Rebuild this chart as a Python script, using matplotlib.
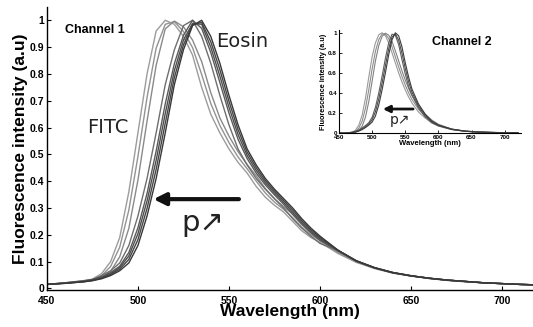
import matplotlib
matplotlib.use("Agg")
import matplotlib.pyplot as plt

# ---- main panel (channel 1) ----
wl = [450, 460, 470, 475, 480, 485, 490, 495, 500, 505, 510, 515, 520, 525, 530,
      535, 540, 545, 550, 555, 560, 565, 570, 575, 580, 585, 590, 595, 600,
      610, 620, 630, 640, 650, 660, 670, 680, 690, 700, 710, 720]

fitc = [.015, .021, .028, .035, .055, .10, .19, .36, .58, .80, .96, 1.0, .985, .94, .87,
        .75, .65, .58, .52, .47, .43, .38, .34, .31, .285, .25, .215, .19, .172,
        .13, .097, .074, .057, .046, .037, .030, .025, .021, .018, .015, .013]
fitc_2 = [.015, .021, .027, .032, .047, .082, .154, .292, .492, .712, .896, .985, .995, .958, .898,
          .798, .69, .608, .544, .49, .446, .40, .356, .322, .295, .264, .229, .20, .179,
          .133, .10, .076, .058, .047, .037, .030, .025, .021, .018, .015, .013]
fitc_4 = [.015, .020, .024, .029, .039, .064, .118, .224, .404, .624, .832, .968, .997, .976, .926,
          .846, .73, .636, .568, .51, .462, .42, .372, .334, .305, .278, .243, .21, .186,
          .136, .103, .078, .06, .048, .038, .031, .026, .021, .018, .015, .013]
eosin_5 = [.015, .021, .029, .033, .048, .066, .095, .16, .27, .41, .58, .76, .89, .98, 1.0,
           .94, .84, .72, .61, .52, .46, .41, .37, .335, .30, .26, .225, .195, .168,
           .14, .10, .076, .058, .047, .038, .031, .026, .021, .018, .015, .013]
eosin_3 = [.015, .020, .027, .033, .043, .059, .083, .134, .226, .354, .512, .688, .838, .944, 1.0,
           .97, .88, .768, .654, .556, .484, .43, .386, .349, .314, .276, .239, .207, .179,
           .141, .102, .077, .059, .047, .038, .031, .026, .021, .018, .015, .013]
eosin_2 = [.015, .020, .026, .032, .041, .055, .078, .121, .204, .326, .478, .652, .812, .926, .988,
           .985, .90, .792, .676, .574, .496, .44, .394, .356, .321, .284, .246, .213, .184,
           .141, .102, .077, .059, .047, .038, .031, .026, .021, .018, .015, .013]
eosin_1 = [.015, .019, .025, .030, .038, .052, .072, .108, .182, .298, .444, .616, .786, .908, .984,
           .992, .92, .816, .698, .592, .508, .45, .402, .363, .328, .292, .253, .219, .19,
           .142, .103, .077, .059, .047, .038, .031, .026, .021, .018, .015, .013]
eosin = [.015, .019, .025, .029, .036, .048, .066, .095, .16, .27, .41, .58, .76, .89, .98,
         1.0, .94, .84, .72, .61, .52, .46, .41, .37, .335, .30, .26, .225, .195,
         .142, .103, .077, .059, .047, .038, .031, .026, .021, .018, .015, .013]

main_curves = [fitc, fitc_2, fitc_4, eosin_5, eosin_3, eosin_2, eosin_1, eosin]
main_colors = ['#9c9c9c', '#939393', '#8a8a8a', '#6e6e6e', '#5a5a5a', '#4e4e4e', '#454545', '#383838']

xticks = [450, 500, 550, 600, 650, 700]
yticks = [0, 0.1, 0.2, 0.3, 0.4, 0.5, 0.6, 0.7, 0.8, 0.9, 1]
ytick_labels = ['0', '0.1', '0.2', '0.3', '0.4', '0.5', '0.6', '0.7', '0.8', '0.9', '1']

# ---- inset (channel 2) ----
wl_in = [450, 460, 470, 475, 480, 485, 490, 495, 500, 505, 510, 515, 520, 525, 530, 535,
         540, 545, 550, 555, 560, 570, 580, 590, 600, 620, 640, 660, 680, 700, 720]
in_f = [0, 0, .01, .03, .08, .18, .35, .56, .76, .90, .98, 1.0, .97, .90, .80, .70,
        .60, .51, .43, .36, .30, .21, .15, .10, .07, .035, .018, .01, .006, .004, .003]
in_f3 = [0, 0, .006, .018, .05, .12, .248, .434, .64, .816, .932, .988, .988, .942, .86, .76,
         .66, .564, .478, .402, .336, .237, .168, .115, .079, .037, .019, .011, .006, .004, .003]
in_f6 = [0, 0, .003, .009, .026, .07, .16, .316, .518, .72, .872, .964, .996, .976, .914, .82,
         .72, .62, .528, .446, .374, .264, .186, .13, .088, .04, .02, .011, .007, .004, .003]
in_e4 = [0, 0, .009, .018, .032, .051, .075, .104, .158, .258, .40, .566, .744, .90, .986, .976,
         .882, .732, .588, .464, .38, .25, .162, .104, .072, .036, .018, .01, .006, .004, .003]
in_e2 = [0, 0, .007, .014, .026, .043, .065, .092, .134, .214, .34, .498, .672, .84, .958, .988,
         .926, .796, .644, .512, .41, .27, .176, .112, .076, .038, .019, .01, .006, .004, .003]
in_e = [0, 0, .005, .01, .02, .035, .055, .08, .11, .17, .28, .43, .60, .78, .93, 1.0,
        .97, .86, .70, .56, .44, .29, .19, .12, .08, .04, .02, .011, .007, .004, .003]

inset_curves = [in_f, in_f3, in_f6, in_e4, in_e2, in_e]
inset_colors = ['#9a9a9a', '#8e8e8e', '#828282', '#5e5e5e', '#4c4c4c', '#3c3c3c']
inset_yticks = [0, 0.2, 0.4, 0.6, 0.8, 1]
inset_ytick_labels = ['0', '0.2', '0.4', '0.6', '0.8', '1']

bold = 'Liberation Sans'

fig = plt.figure(figsize=(5.33, 3.27), dpi=100)
ax = fig.add_axes([0.088, 0.113, 0.912, 0.866])
for y, c in zip(main_curves, main_colors):
    ax.plot(wl, y, color=c, lw=1.0)
ax.set_xlim(450, 717)
ax.set_ylim(-0.006, 1.05)
ax.set_xticks(xticks)
ax.set_yticks(yticks)
ax.set_yticklabels(ytick_labels)
for s in ['top', 'right']:
    ax.spines[s].set_visible(False)
for s in ['left', 'bottom']:
    ax.spines[s].set_linewidth(1.0)
ax.tick_params(direction='in', length=3, width=0.8, labelsize=7.5, pad=2)
ax.tick_params(axis='x', pad=4)
for lab in ax.get_xticklabels() + ax.get_yticklabels():
    lab.set_fontfamily(bold)
    lab.set_fontweight('bold')
ax.set_xlabel('Wavelength (nm)', fontfamily=bold, fontweight='bold', fontsize=12.5, labelpad=-1)
ax.set_ylabel('Fluorescence intensity (a.u)', fontfamily=bold, fontweight='bold', fontsize=12.5, labelpad=1)

ax.text(460, 0.965, 'Channel 1', fontfamily=bold, fontweight='bold', fontsize=9, va='center')
ax.text(543, 0.92, 'Eosin', fontsize=14, va='center', color='#222222')
ax.text(472, 0.6, 'FITC', fontsize=14, va='center', color='#222222')
ax.annotate('', xy=(507, 0.333), xytext=(557, 0.333),
            arrowprops=dict(arrowstyle='-|>', lw=3, color='#111111', mutation_scale=18))
ax.text(524, 0.245, 'p\u2197', fontsize=21, va='center', color='#222222')

ins = fig.add_axes([0.636, 0.593, 0.342, 0.316])
for y, c in zip(inset_curves, inset_colors):
    ins.plot(wl_in, y, color=c, lw=0.8)
ins.set_xlim(450, 725)
ins.set_ylim(0, 1.03)
ins.set_xticks(xticks)
ins.set_yticks(inset_yticks)
ins.set_yticklabels(inset_ytick_labels)
for s in ['top', 'right']:
    ins.spines[s].set_visible(False)
for s in ['left', 'bottom']:
    ins.spines[s].set_linewidth(0.8)
ins.tick_params(direction='in', length=2, width=0.6, labelsize=4.5, pad=1.5)
for lab in ins.get_xticklabels() + ins.get_yticklabels():
    lab.set_fontfamily(bold)
    lab.set_fontweight('bold')
ins.set_xlabel('Wavelength (nm)', fontfamily=bold, fontweight='bold', fontsize=5.5, labelpad=0)
ins.set_ylabel('Fluorescence intensity (a.u)', fontfamily=bold, fontweight='bold', fontsize=5.2, labelpad=1)
ins.text(590, 0.91, 'Channel 2', fontfamily=bold, fontweight='bold', fontsize=9, va='center')
ins.annotate('', xy=(512, 0.24), xytext=(566, 0.24),
             arrowprops=dict(arrowstyle='-|>', lw=2, color='#111111', mutation_scale=10))
ins.text(527, 0.13, 'p\u2197', fontsize=10, va='center', color='#222222')

fig.savefig('out.png', dpi=100)
